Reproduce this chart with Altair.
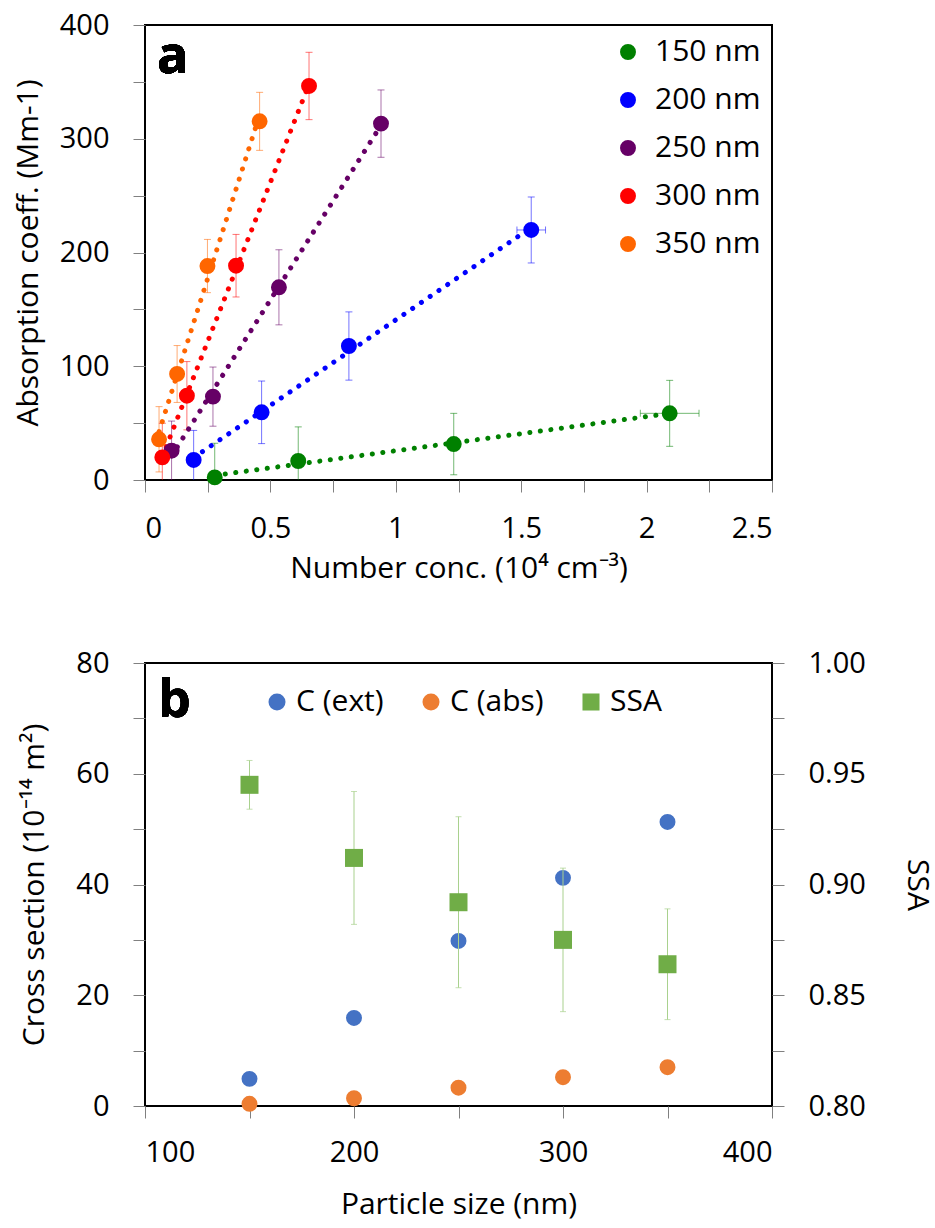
import altair as alt
import pandas as pd

FONT = "Open Sans"

# ---------------- Panel a data ----------------
sizes = ["150 nm", "200 nm", "250 nm", "300 nm", "350 nm"]
colors_a = ["#008000", "#0000FF", "#660066", "#FF0000", "#FF6600"]

conc_150 = [0.278, 0.611, 1.231, 2.092]
abs_150 = [2.3, 16.7, 31.6, 58.6]
err_150 = [30, 30, 27, 29]
xerr_150 = [0, 0, 0, 0.117]

conc_200 = [0.194, 0.465, 0.813, 1.540]
abs_200 = [17.6, 59.5, 117.8, 219.8]
err_200 = [26, 27.5, 30, 29]
xerr_200 = [0, 0, 0, 0.057]

conc_250 = [0.106, 0.271, 0.534, 0.941]
abs_250 = [25.8, 73.3, 169.4, 313.3]
err_250 = [26, 26, 33, 29.6]
xerr_250 = [0, 0, 0, 0]

conc_300 = [0.069, 0.167, 0.363, 0.654]
abs_300 = [19.9, 74.1, 188.4, 346.4]
err_300 = [30, 30, 27.5, 29.6]
xerr_300 = [0, 0, 0, 0]

conc_350 = [0.056, 0.128, 0.249, 0.457]
abs_350 = [35.8, 93.2, 188.1, 315.3]
err_350 = [28.7, 25, 23.4, 25.5]
xerr_350 = [0, 0, 0, 0]

x_ticks_a = [0, 0.25, 0.5, 0.75, 1, 1.25, 1.5, 1.75, 2, 2.25, 2.5]
y_ticks_a = [0, 50, 100, 150, 200, 250, 300, 350, 400]

# ---------------- Panel b data ----------------
size_b = [150, 200, 250, 300, 350]
c_ext = [4.9, 15.9, 29.8, 41.2, 51.3]
c_abs = [0.4, 1.4, 3.3, 5.2, 7.0]
ssa = [0.945, 0.912, 0.892, 0.875, 0.864]
ssa_err = [0.011, 0.030, 0.0386, 0.0324, 0.025]
series_b = ["C (ext)", "C (abs)", "SSA"]
colors_b = ["#4472C4", "#ED7D31", "#70AD47"]
shapes_b = ["circle", "circle", "square"]

x_ticks_b = [100, 150, 200, 250, 300, 350, 400]
y_ticks_b = [0, 10, 20, 30, 40, 50, 60, 70, 80]
y2_ticks_b = [0.8, 0.825, 0.85, 0.875, 0.9, 0.925, 0.95, 0.975, 1.0]

# ---------------- build tables ----------------
rows = []
for s, xs, ys, es, xes in zip(
    sizes,
    [conc_150, conc_200, conc_250, conc_300, conc_350],
    [abs_150, abs_200, abs_250, abs_300, abs_350],
    [err_150, err_200, err_250, err_300, err_350],
    [xerr_150, xerr_200, xerr_250, xerr_300, xerr_350],
):
    for x, y, e, xe in zip(xs, ys, es, xes):
        rows.append({"size": s, "grp": s, "conc": x, "absn": y, "err": e, "xerr": xe})
df_a = pd.DataFrame(rows)

rows_b = []
for sz, ce, ca in zip(size_b, c_ext, c_abs):
    rows_b.append({"psize": sz, "series": "C (ext)", "cs": ce})
    rows_b.append({"psize": sz, "series": "C (abs)", "cs": ca})
df_b = pd.DataFrame(rows_b)
df_ssa = pd.DataFrame({"psize": size_b, "ssa": ssa, "serr": ssa_err, "series": ["SSA"] * 5})

# ---------------- Panel a ----------------
W, HA, HB = 627, 455, 443

xscale_a = alt.Scale(domain=[0, 2.5], nice=False, zero=False)
yscale_a = alt.Scale(domain=[0, 400], nice=False)
xaxis_a = alt.Axis(values=x_ticks_a, labelPadding=22, titlePadding=10,
                   labelExpr="(datum.value * 2) % 1 == 0 ? format(datum.value, '~g') : ''")
yaxis_a = alt.Axis(values=y_ticks_a, labelPadding=24, titlePadding=16,
                   labelExpr="datum.value % 100 == 0 ? datum.label : ''")
XT_A = "Number conc. (10⁴ cm⁻³)"
YT_A = "Absorption coeff. (Mm-1)"

def xa(field):
    return alt.X(field, type="quantitative", scale=xscale_a, axis=xaxis_a, title=XT_A)

def ya(field):
    return alt.Y(field, type="quantitative", scale=yscale_a, axis=yaxis_a, title=YT_A)

# stroke colour scale (data-driven domain, sorted ascending = same order as sizes)
col_nolegend = alt.Color("grp:N", scale=alt.Scale(range=colors_a), sort="ascending", legend=None)
# fill scale with explicit domain, carries the legend
fill_scale_a = alt.Scale(domain=sizes, range=colors_a)

base_a = alt.Chart(df_a).transform_calculate(
    lo="datum.absn - datum.err", hi="datum.absn + datum.err",
    xlo="datum.conc - datum.xerr", xhi="datum.conc + datum.xerr",
)

err_v = base_a.mark_rule(strokeWidth=1, opacity=0.55, clip=True).encode(
    x=xa("conc"), y=ya("lo"), y2="hi:Q", color=col_nolegend)
cap_lo = base_a.mark_tick(orient="horizontal", size=7, thickness=1, opacity=0.55, clip=True).encode(
    x=xa("conc"), y=ya("lo"), color=col_nolegend)
cap_hi = base_a.mark_tick(orient="horizontal", size=7, thickness=1, opacity=0.55, clip=True).encode(
    x=xa("conc"), y=ya("hi"), color=col_nolegend)

base_ax = base_a.transform_filter("datum.xerr > 0")
err_h = base_ax.mark_rule(strokeWidth=1, opacity=0.55).encode(
    x=xa("xlo"), x2="xhi:Q", y=ya("absn"), color=col_nolegend)
cap_l = base_ax.mark_tick(orient="vertical", size=7, thickness=1, opacity=0.55).encode(
    x=xa("xlo"), y=ya("absn"), color=col_nolegend)
cap_r = base_ax.mark_tick(orient="vertical", size=7, thickness=1, opacity=0.55).encode(
    x=xa("xhi"), y=ya("absn"), color=col_nolegend)

trend = alt.Chart(df_a).transform_regression(
    "conc", "absn", groupby=["grp"]
).mark_line(strokeWidth=5, strokeDash=[0.1, 10.5], strokeCap="round").encode(
    x=xa("conc"), y=ya("absn"), color=col_nolegend)

points_a = alt.Chart(df_a).mark_circle(size=254, opacity=1).encode(
    x=xa("conc"), y=ya("absn"),
    fill=alt.Fill("size:N", scale=fill_scale_a, legend=alt.Legend(
        orient="none", legendX=468, legendY=12, title=None, padding=0,
        labelFontSize=30, labelFont=FONT, labelColor="#000", symbolSize=254,
        symbolType="circle", symbolStrokeWidth=0, rowPadding=18, labelOffset=12,
    )),
)

label_a = alt.Chart(df_a).mark_text(
    text="a", font=FONT, fontSize=52, fontWeight="bold", align="left",
    baseline="alphabetic", color="#000",
).encode(x=alt.value(12), y=alt.value(48))

chart_a = alt.layer(err_v, cap_lo, cap_hi, err_h, cap_l, cap_r, trend, points_a, label_a).properties(
    width=W, height=HA)

# ---------------- Panel b ----------------
xscale_b = alt.Scale(domain=[100, 400], nice=False, zero=False)
xaxis_b = alt.Axis(values=x_ticks_b, labelPadding=20, titlePadding=22,
                   labelExpr="datum.value % 100 == 0 ? datum.label : ''")
XT_B = "Particle size (nm)"

def xb(field):
    return alt.X(field, type="quantitative", scale=xscale_b, axis=xaxis_b, title=XT_B)

cscale_b = alt.Scale(domain=series_b, range=colors_b)
sscale_b = alt.Scale(domain=series_b, range=shapes_b)
legend_b = alt.Legend(
    orient="none", legendX=117, legendY=24, direction="horizontal", title=None,
    padding=0, labelFontSize=30, labelFont=FONT, labelColor="#000", symbolSize=290,
    symbolStrokeWidth=0, columnPadding=32, labelOffset=4,
)

points_b = alt.Chart(df_b).mark_point(filled=True, size=254, opacity=1).encode(
    x=xb("psize"),
    y=alt.Y("cs:Q", scale=alt.Scale(domain=[0, 80], nice=False),
            axis=alt.Axis(values=y_ticks_b, labelPadding=24, titlePadding=26,
                          labelExpr="datum.value % 20 == 0 ? datum.label : ''"),
            title="Cross section (10⁻¹⁴ m²)"),
    color=alt.Color("series:N", scale=cscale_b, legend=legend_b),
    shape=alt.Shape("series:N", scale=sscale_b, legend=legend_b),
)

yscale_r = alt.Scale(domain=[0.8, 1.0], nice=False, zero=False)
yaxis_r = alt.Axis(orient="right", values=y2_ticks_b, labelPadding=24, titlePadding=36,
                   labelExpr="round(datum.value * 1000) % 50 == 0 ? format(datum.value, '.2f') : ''")

def yr(field):
    return alt.Y(field, type="quantitative", scale=yscale_r, axis=yaxis_r, title="SSA")

base_s = alt.Chart(df_ssa).transform_calculate(
    lo="datum.ssa - datum.serr", hi="datum.ssa + datum.serr")
ssa_rule = base_s.mark_rule(strokeWidth=1, color="#A9D18E").encode(
    x=xb("psize"), y=yr("lo"), y2="hi:Q")
ssa_cap_lo = base_s.mark_tick(orient="horizontal", size=6, thickness=1, color="#A9D18E").encode(
    x=xb("psize"), y=yr("lo"))
ssa_cap_hi = base_s.mark_tick(orient="horizontal", size=6, thickness=1, color="#A9D18E").encode(
    x=xb("psize"), y=yr("hi"))
ssa_pts = alt.Chart(df_ssa).mark_point(filled=True, size=324, opacity=1).encode(
    x=xb("psize"), y=yr("ssa"),
    color=alt.Color("series:N", scale=cscale_b, legend=legend_b),
    shape=alt.Shape("series:N", scale=sscale_b, legend=legend_b),
)
right_layer = alt.layer(ssa_rule, ssa_cap_lo, ssa_cap_hi, ssa_pts)

label_b = alt.Chart(df_ssa).mark_text(
    text="b", font=FONT, fontSize=52, fontWeight="bold", align="left",
    baseline="alphabetic", color="#000",
).encode(x=alt.value(13), y=alt.value(54))

chart_b = alt.layer(points_b, right_layer, label_b).resolve_scale(y="independent").properties(
    width=W, height=HB)

chart = alt.vconcat(chart_a, chart_b, spacing=64).resolve_scale(
    color="independent", shape="independent", fill="independent"
).resolve_legend(
    color="independent", shape="independent", fill="independent"
).properties(
    padding={"left": 12, "top": 10, "right": 0, "bottom": 0}
).configure_view(stroke="#000", strokeWidth=2).configure_axis(
    labelFont=FONT, labelFontSize=29, labelColor="#000",
    titleFont=FONT, titleFontSize=30, titleFontWeight="normal", titleColor="#000",
    tickColor="#808080", tickSize=12, tickWidth=1, domain=False, grid=False,
).configure_legend(labelFont=FONT)

chart.save("out.html", embed_options={"renderer": "svg", "actions": False})
